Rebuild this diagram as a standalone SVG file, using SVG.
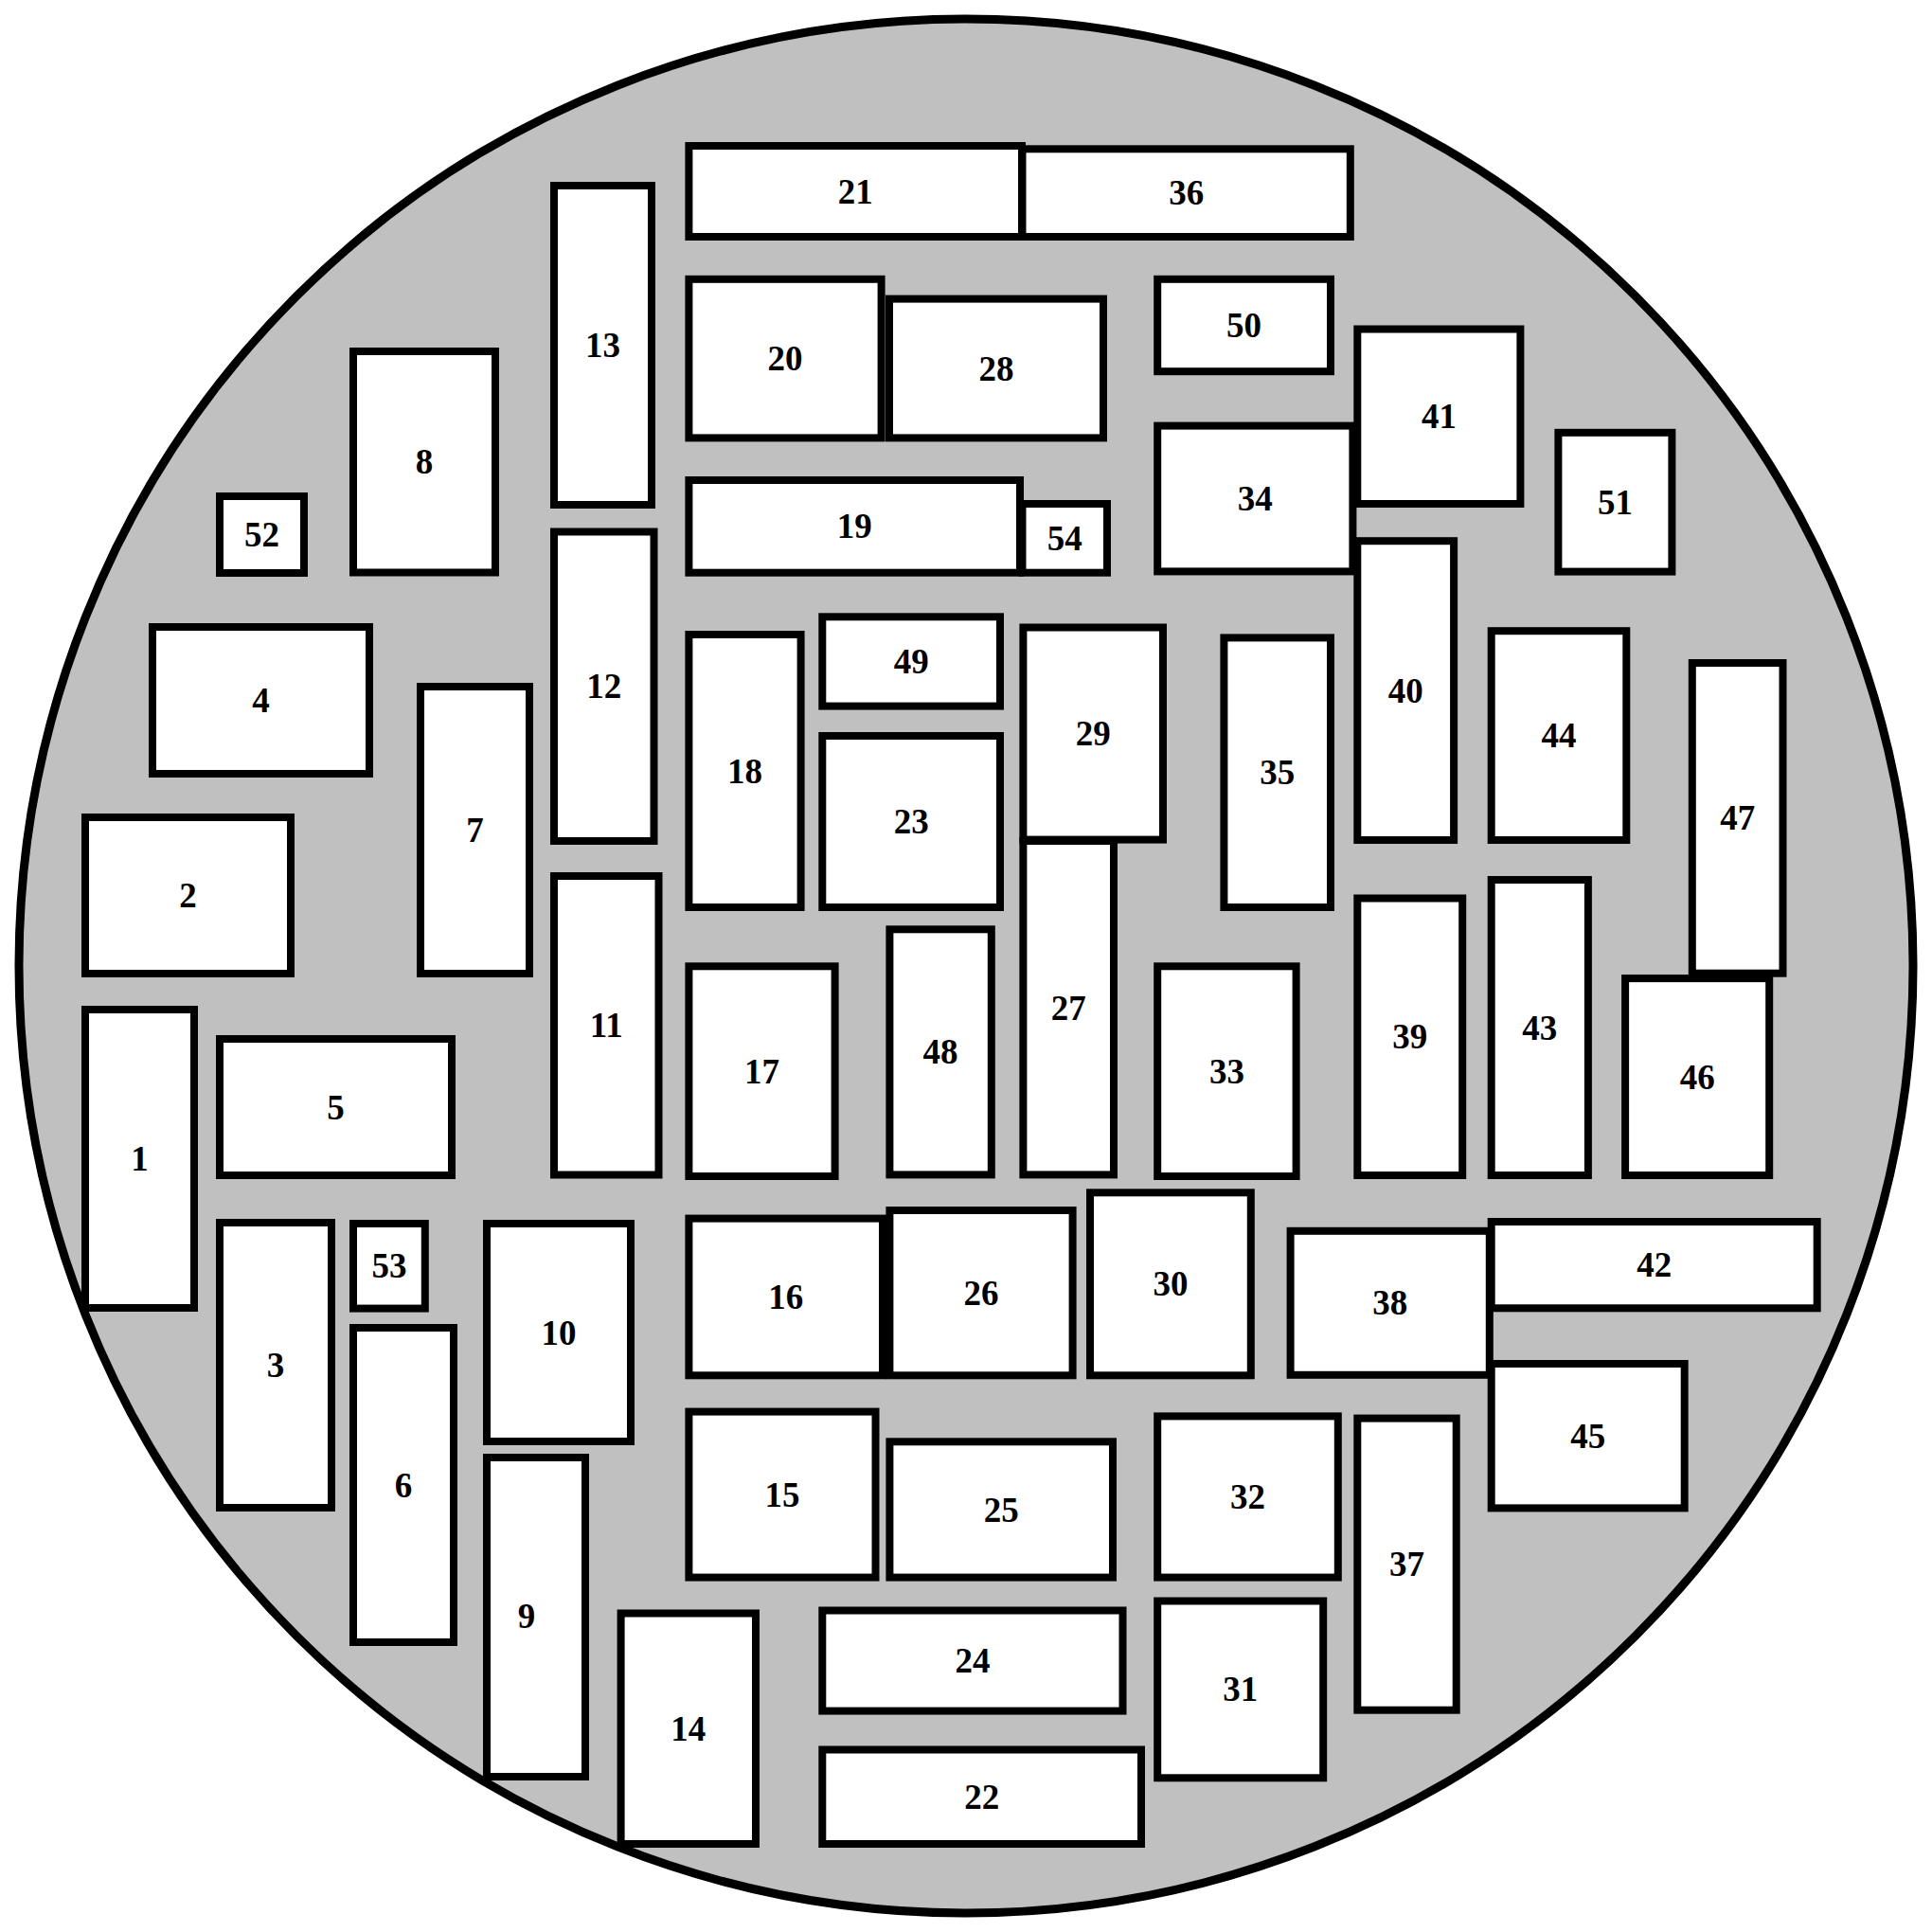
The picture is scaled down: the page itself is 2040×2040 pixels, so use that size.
<svg xmlns="http://www.w3.org/2000/svg" width="2040" height="2040" viewBox="0 0 2040 2040">
<style>
.b{fill:#fff;stroke:#000;stroke-width:8}
.t{font-family:"Liberation Serif","Times New Roman",serif;font-weight:bold;font-size:37px;text-anchor:middle;fill:#000}
</style>
<rect x="0" y="0" width="2040" height="2040" fill="#fff"/>
<circle id="panel" cx="1020" cy="1020" r="1000" fill="#c0c0c0" stroke="#000" stroke-width="9"/>
<g id="connectors"></g>
<g id="n1"><rect class="b" x="90" y="1066" width="115" height="315"/><text class="t" x="147.5" y="1236">1</text></g>
<g id="n2"><rect class="b" x="90" y="863" width="217" height="165"/><text class="t" x="198.5" y="958">2</text></g>
<g id="n3"><rect class="b" x="232" y="1291" width="118" height="301"/><text class="t" x="291" y="1454">3</text></g>
<g id="n4"><rect class="b" x="161" y="662" width="229" height="155"/><text class="t" x="275.5" y="752">4</text></g>
<g id="n5"><rect class="b" x="232" y="1097" width="245" height="144"/><text class="t" x="354.5" y="1181.5">5</text></g>
<g id="n6"><rect class="b" x="373" y="1402" width="106" height="332"/><text class="t" x="426" y="1580.5">6</text></g>
<g id="n7"><rect class="b" x="444" y="725" width="115" height="303"/><text class="t" x="501.5" y="889">7</text></g>
<g id="n8"><rect class="b" x="373" y="371" width="150" height="233.5"/><text class="t" x="448" y="500">8</text></g>
<g id="n9"><rect class="b" x="514" y="1539" width="104" height="337"/><text class="t" x="556" y="1719">9</text></g>
<g id="n10"><rect class="b" x="514" y="1292" width="152" height="230"/><text class="t" x="590" y="1419.5">10</text></g>
<g id="n11"><rect class="b" x="585" y="925" width="110.5" height="315.5"/><text class="t" x="640.3" y="1095">11</text></g>
<g id="n12"><rect class="b" x="585" y="561.5" width="105.5" height="326.5"/><text class="t" x="637.8" y="737">12</text></g>
<g id="n13"><rect class="b" x="585" y="196" width="103" height="337"/><text class="t" x="636.5" y="377">13</text></g>
<g id="n14"><rect class="b" x="655.6" y="1703.5" width="142.4" height="243.5"/><text class="t" x="726.8" y="1838">14</text></g>
<g id="n15"><rect class="b" x="727.4" y="1490.6" width="197.1" height="175"/><text class="t" x="826" y="1590.6">15</text></g>
<g id="n16"><rect class="b" x="727.4" y="1286.6" width="204.6" height="165.7"/><text class="t" x="829.7" y="1382">16</text></g>
<g id="n17"><rect class="b" x="727.4" y="1020.3" width="154.2" height="221.7"/><text class="t" x="804.5" y="1143.6">17</text></g>
<g id="n18"><rect class="b" x="727.4" y="670" width="118.2" height="288"/><text class="t" x="786.5" y="826.5">18</text></g>
<g id="n19"><rect class="b" x="727.4" y="507" width="349.6" height="97.7"/><text class="t" x="902.2" y="568.4">19</text></g>
<g id="n20"><rect class="b" x="727.4" y="294.8" width="203.2" height="167.6"/><text class="t" x="829" y="391.1">20</text></g>
<g id="n21"><rect class="b" x="727.4" y="154" width="351.6" height="96"/><text class="t" x="903.2" y="214.5">21</text></g>
<g id="n22"><rect class="b" x="868.3" y="1847.5" width="336.7" height="99.5"/><text class="t" x="1036.7" y="1909.8">22</text></g>
<g id="n23"><rect class="b" x="868.3" y="777" width="187.7" height="181"/><text class="t" x="962.2" y="880">23</text></g>
<g id="n24"><rect class="b" x="868.3" y="1700.5" width="317.2" height="106.1"/><text class="t" x="1026.9" y="1766">24</text></g>
<g id="n25"><rect class="b" x="939.4" y="1522.3" width="235.6" height="143.3"/><text class="t" x="1057.2" y="1606.5">25</text></g>
<g id="n26"><rect class="b" x="939.4" y="1278" width="193.2" height="174.3"/><text class="t" x="1036" y="1377.7">26</text></g>
<g id="n27"><rect class="b" x="1080.4" y="888" width="95.6" height="352.4"/><text class="t" x="1128.2" y="1076.7">27</text></g>
<g id="n28"><rect class="b" x="939" y="315.6" width="226" height="146.8"/><text class="t" x="1052" y="401.5">28</text></g>
<g id="n29"><rect class="b" x="1080.4" y="662.5" width="147.6" height="224.1"/><text class="t" x="1154.2" y="787">29</text></g>
<g id="n30"><rect class="b" x="1151" y="1259.3" width="169.8" height="193"/><text class="t" x="1235.9" y="1368.3">30</text></g>
<g id="n31"><rect class="b" x="1222.2" y="1690.5" width="175" height="186.8"/><text class="t" x="1309.7" y="1796.4">31</text></g>
<g id="n32"><rect class="b" x="1222.2" y="1495.4" width="190.6" height="170.2"/><text class="t" x="1317.5" y="1593">32</text></g>
<g id="n33"><rect class="b" x="1222.2" y="1020.3" width="146.4" height="221.7"/><text class="t" x="1295.4" y="1143.6">33</text></g>
<g id="n34"><rect class="b" x="1222.2" y="449.6" width="206.2" height="153.8"/><text class="t" x="1325.3" y="539">34</text></g>
<g id="n35"><rect class="b" x="1292.4" y="673.4" width="112.6" height="284.6"/><text class="t" x="1348.7" y="828.2">35</text></g>
<g id="n36"><rect class="b" x="1079.5" y="157.3" width="346.3" height="92.7"/><text class="t" x="1252.7" y="216">36</text></g>
<g id="n37"><rect class="b" x="1433.3" y="1497.6" width="104.4" height="308.1"/><text class="t" x="1485.5" y="1664">37</text></g>
<g id="n38"><rect class="b" x="1362.6" y="1299.8" width="210.2" height="152"/><text class="t" x="1467.7" y="1388.3">38</text></g>
<g id="n39"><rect class="b" x="1433.3" y="948.5" width="110.9" height="292.5"/><text class="t" x="1488.8" y="1107.2">39</text></g>
<g id="n40"><rect class="b" x="1433.3" y="571.2" width="101.8" height="315.8"/><text class="t" x="1484.2" y="741.6">40</text></g>
<g id="n41"><rect class="b" x="1433.3" y="347.5" width="172.1" height="184.5"/><text class="t" x="1519.4" y="452.2">41</text></g>
<g id="n42"><rect class="b" x="1574.7" y="1290" width="344" height="91.3"/><text class="t" x="1746.7" y="1348">42</text></g>
<g id="n43"><rect class="b" x="1574.7" y="929" width="102.2" height="312"/><text class="t" x="1625.8" y="1097.5">43</text></g>
<g id="n44"><rect class="b" x="1574.7" y="666.2" width="142.6" height="220.8"/><text class="t" x="1646" y="789">44</text></g>
<g id="n45"><rect class="b" x="1574.7" y="1440" width="204" height="152.4"/><text class="t" x="1676.7" y="1528.7">45</text></g>
<g id="n46"><rect class="b" x="1716.1" y="1033.1" width="152.1" height="207.9"/><text class="t" x="1792.2" y="1149.5">46</text></g>
<g id="n47"><rect class="b" x="1786.8" y="700" width="95.7" height="327.7"/><text class="t" x="1834.7" y="876.3">47</text></g>
<g id="n48"><rect class="b" x="939.4" y="981.3" width="107.4" height="259.1"/><text class="t" x="993.1" y="1123.3">48</text></g>
<g id="n49"><rect class="b" x="868.3" y="651.3" width="187.7" height="94.3"/><text class="t" x="962.2" y="711">49</text></g>
<g id="n50"><rect class="b" x="1222.2" y="294.8" width="182.8" height="97.4"/><text class="t" x="1313.6" y="356">50</text></g>
<g id="n51"><rect class="b" x="1645.4" y="456.8" width="120" height="146.8"/><text class="t" x="1705.4" y="542.7">51</text></g>
<g id="n52"><rect class="b" x="232" y="524" width="89" height="81"/><text class="t" x="276.5" y="577">52</text></g>
<g id="n53"><rect class="b" x="373" y="1292" width="75.8" height="89.6"/><text class="t" x="410.9" y="1349.3">53</text></g>
<g id="n54"><rect class="b" x="1079.5" y="532" width="89.5" height="72.7"/><text class="t" x="1124.3" y="580.9">54</text></g>
</svg>
